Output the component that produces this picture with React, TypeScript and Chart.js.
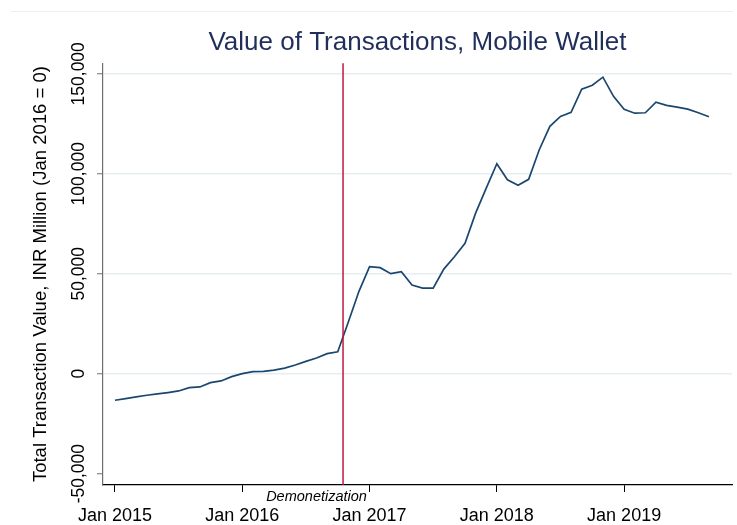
import React, { useEffect, useRef } from "react";
import { Chart, registerables } from "chart.js";

Chart.register(...registerables);

// Months since Jan 2015 (0 = Jan 2015)
const monthIndex = Array.from({ length: 57 }, (_, i) => i);

// Total transaction value, INR million, Jan 2016 = 0
const values2015 = [-13300, -12450, -11650, -10800, -10150, -9450, -8650, -7000, -6650, -4500, -3650, -1500];
const values2016 = [0, 1000, 1150, 1800, 2800, 4300, 6150, 7800, 10000, 10900, 25800, 41200];
const values2017 = [53500, 53000, 50000, 51000, 44300, 42800, 42800, 52300, 58500, 65200, 80300, 92800];
const values2018 = [105000, 97000, 94200, 97200, 112000, 123700, 128700, 130700, 142300, 144300, 148300, 138700];
const values2019 = [132200, 130300, 130500, 135800, 134200, 133300, 132300, 130500, 128500];
const seriesValues = [...values2015, ...values2016, ...values2017, ...values2018, ...values2019];

const xTickValues = [0, 12, 24, 36, 48];
const xTickLabels = ["Jan 2015", "Jan 2016", "Jan 2017", "Jan 2018", "Jan 2019"];
const yTickValues = [-50000, 0, 50000, 100000, 150000];

const xMin = -1.13;
const xMax = 58.17;
const yMin = -55700;
const yMax = 155300;

const eventMonth = 21.5;
const eventLabel = "Demonetization";
const eventLabelMonth = 19;

const chartTitle = "Value of Transactions, Mobile Wallet";
const yAxisTitle = "Total Transaction Value, INR Million (Jan 2016 = 0)";

const FONT = "'Liberation Sans', Arial, Helvetica, sans-serif";

const eventPlugin = {
  id: "eventLine",
  beforeDraw(chart: any) {
    const ctx = chart.ctx;
    ctx.save();
    ctx.strokeStyle = "#eceeef";
    ctx.lineWidth = 1;
    ctx.beginPath();
    ctx.moveTo(11, 11.5);
    ctx.lineTo(733, 11.5);
    ctx.stroke();
    ctx.restore();
  },
  afterDatasetsDraw(chart: any) {
    const { ctx, chartArea, scales } = chart;
    const x = scales.x.getPixelForValue(eventMonth);
    ctx.save();
    ctx.strokeStyle = "#c3173f";
    ctx.lineWidth = 1.5;
    ctx.beginPath();
    ctx.moveTo(x, chartArea.top);
    ctx.lineTo(x, chartArea.bottom);
    ctx.stroke();
    const lx = scales.x.getPixelForValue(eventLabelMonth);
    ctx.fillStyle = "#000";
    ctx.font = `italic 14.5px ${FONT}`;
    ctx.textAlign = "center";
    ctx.textBaseline = "alphabetic";
    ctx.fillText(eventLabel, lx, chartArea.bottom + 16);
    ctx.restore();
  },
};

export default function App() {
  const canvasRef = useRef<HTMLCanvasElement | null>(null);

  useEffect(() => {
    if (!canvasRef.current) return;
    const chart = new Chart(canvasRef.current, {
      type: "line",
      data: {
        datasets: [
          {
            data: seriesValues.map((v, i) => ({ x: monthIndex[i], y: v })),
            borderColor: "#1a476f",
            borderWidth: 1.7,
            pointRadius: 0,
            tension: 0,
            fill: false,
          },
        ],
      },
      plugins: [eventPlugin],
      options: {
        animation: false,
        responsive: false,
        devicePixelRatio: 1,
        layout: { padding: { left: 0, right: 5, top: 0, bottom: 0 } },
        plugins: {
          legend: { display: false },
          tooltip: { enabled: false },
          title: {
            display: true,
            text: chartTitle,
            fullSize: false,
            color: "#1f2f5a",
            font: { family: FONT, size: 26, weight: "normal" },
            padding: { top: 27, bottom: 5 },
          },
        },
        scales: {
          x: {
            type: "linear",
            min: xMin,
            max: xMax,
            afterBuildTicks: (s: any) => {
              s.ticks = xTickValues.map((v) => ({ value: v }));
            },
            afterFit: (s: any) => {
              s.height = 40;
            },
            ticks: {
              autoSkip: false,
              maxRotation: 0,
              minRotation: 0,
              padding: 13,
              color: "#000",
              font: { family: FONT, size: 18 },
              callback: (v: any) => {
                const i = xTickValues.indexOf(Number(v));
                return i >= 0 ? xTickLabels[i] : "";
              },
            },
            grid: {
              drawOnChartArea: false,
              drawTicks: true,
              tickLength: 7,
              tickColor: "#000",
              tickWidth: 1,
            },
            border: { display: true, color: "#000", width: 1.2 },
          },
          y: {
            type: "linear",
            min: yMin,
            max: yMax,
            afterBuildTicks: (s: any) => {
              s.ticks = yTickValues.map((v) => ({ value: v }));
            },
            afterFit: (s: any) => {
              s.width = 103;
            },
            ticks: {
              autoSkip: false,
              minRotation: 90,
              maxRotation: 90,
              crossAlign: "center",
              padding: -13.6,
              color: "#000",
              font: { family: FONT, size: 17.5 },
              callback: (v: any) => Number(v).toLocaleString("en-US"),
            },
            grid: {
              drawOnChartArea: true,
              color: (c: any) => (c.index === 0 ? "rgba(0,0,0,0)" : "#e6eef1"),
              lineWidth: 1.5,
              drawTicks: true,
              tickLength: 6,
              tickColor: "#6f6f6f",
              tickWidth: 1,
            },
            border: { display: true, color: "#6f6f6f", width: 1.2 },
            title: {
              display: true,
              text: yAxisTitle,
              color: "#000",
              font: { family: FONT, size: 18.5 },
              padding: { top: 30, bottom: 0 },
            },
          },
        },
      },
    });
    return () => chart.destroy();
  }, []);

  return (
    <div style={{ position: "fixed", left: 0, top: 0, width: 737, height: 525, background: "#fff" }}>
      <canvas ref={canvasRef} width={737} height={525} style={{ display: "block", width: 737, height: 525 }} />
    </div>
  );
}
